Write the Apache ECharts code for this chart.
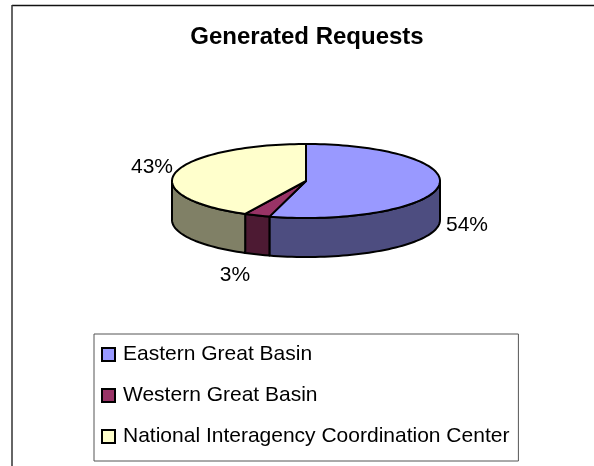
<!DOCTYPE html>
<html>
<head>
<meta charset="utf-8">
<style>
  html, body { margin: 0; padding: 0; background: #fff; }
  #chart { width: 594px; height: 466px; }
</style>
</head>
<body>
<div id="chart"></div>
<script src="https://cdn.jsdelivr.net/npm/echarts@6/dist/echarts.min.js"></script>
<script>
var categories = ['Eastern Great Basin', 'Western Great Basin', 'National Interagency Coordination Center'];
var shares = [54.4, 3.1, 42.5];
var topColors = ['#9999ff', '#993366', '#ffffcc'];
var sideColors = ['#4d4d80', '#4d1a33', '#808066'];

var FONT = '"Liberation Sans", Arial, sans-serif';
// pie geometry
var cx = 306, cy = 181, rx = 134, ry = 37, depth = 39;
// where the percent labels sit around the pie
var labelSpots = [[467, 225], [235, 275], [152, 167]];

var total = shares.reduce(function (a, b) { return a + b; }, 0);

function rimPoint(deg, drop) {
  var r = deg * Math.PI / 180;
  return [cx + rx * Math.sin(r), cy - ry * Math.cos(r) + drop];
}

function arc(from, to, drop) {
  var pts = [];
  for (var d = from; d < to; d += 2) {
    pts.push(rimPoint(d, drop));
  }
  pts.push(rimPoint(to, drop));
  return pts;
}

function renderSlice(index) {
  var before = shares.slice(0, index).reduce(function (a, b) { return a + b; }, 0);
  return function (params, api) {
    var value = api.value(0);
    var start = before / total * 360;
    var end = start + value / total * 360;
    var children = [];
    // front wall, only the part that faces the viewer
    var wallFrom = Math.max(start, 90), wallTo = Math.min(end, 270);
    if (wallFrom < wallTo) {
      children.push({
        type: 'polygon',
        shape: { points: arc(wallFrom, wallTo, 0).concat(arc(wallFrom, wallTo, depth).reverse()) },
        style: { fill: sideColors[index], stroke: '#000', lineWidth: 2, lineJoin: 'round' }
      });
    }
    children.push({
      type: 'polygon',
      shape: { points: [[cx, cy]].concat(arc(start, end, 0)) },
      style: { fill: topColors[index], stroke: '#000', lineWidth: 2, lineJoin: 'round' }
    });
    children.push({
      type: 'text',
      style: {
        x: labelSpots[index][0],
        y: labelSpots[index][1],
        text: Math.round(value / total * 100) + '%',
        fill: '#000',
        font: '21px ' + FONT,
        align: 'center',
        verticalAlign: 'middle'
      }
    });
    return { type: 'group', children: children };
  };
}

var chart = echarts.init(document.getElementById('chart'), null, { renderer: 'canvas' });

chart.setOption({
  animation: false,
  backgroundColor: '#fff',
  title: {
    text: 'Generated Requests',
    left: 302,
    top: 20,
    textAlign: 'center',
    textStyle: { fontFamily: FONT, fontSize: 24, fontWeight: 'bold', color: '#000' }
  },
  legend: {
    orient: 'vertical',
    left: 94,
    top: 334,
    data: categories,
    icon: 'rect',
    itemWidth: 13,
    itemHeight: 13,
    itemGap: 20,
    padding: [10, 9, 14, 7],
    borderColor: '#555',
    borderWidth: 1,
    selectedMode: false,
    textStyle: { fontFamily: FONT, fontSize: 21, color: '#000', padding: [0, 0, 0, 3] }
  },
  series: categories.map(function (name, i) {
    return {
      type: 'custom',
      name: name,
      coordinateSystem: 'none',
      silent: true,
      data: [[shares[i]]],
      itemStyle: { color: topColors[i], borderColor: '#000', borderWidth: 2 },
      renderItem: renderSlice(i)
    };
  }),
  graphic: [
    { type: 'line', shape: { x1: 12, y1: 5.5, x2: 594, y2: 5.5 }, style: { stroke: '#111', lineWidth: 1.5 } },
    { type: 'line', shape: { x1: 12, y1: 5, x2: 12, y2: 466 }, style: { stroke: '#333', lineWidth: 1.5 } }
  ]
});
</script>
</body>
</html>
